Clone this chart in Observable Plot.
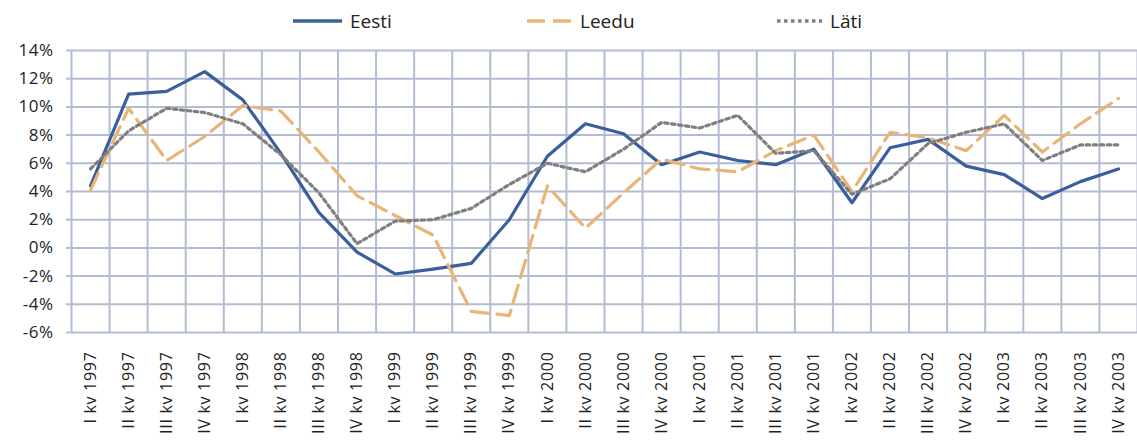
<!DOCTYPE html>
<html><head><meta charset="utf-8">
<script src="https://cdn.jsdelivr.net/npm/d3@7"></script>
<script src="https://cdn.jsdelivr.net/npm/@observablehq/plot@0.6"></script>
<style>
body{margin:0;background:#fff;font-family:"Open Sans",sans-serif;}
#legend{position:relative;height:40px;width:1137px;}
.item{position:absolute;top:9px;height:24px;line-height:24px;display:flex;align-items:center;font-size:19px;color:#222;}
.item svg{margin-right:8px;display:block}
</style></head><body>
<div id="legend"></div><div id="chart"></div>
<script>
const quarters = ["I kv 1997","II kv 1997","III kv 1997","IV kv 1997",
  "I kv 1998","II kv 1998","III kv 1998","IV kv 1998",
  "I kv 1999","II kv 1999","III kv 1999","IV kv 1999",
  "I kv 2000","II kv 2000","III kv 2000","IV kv 2000",
  "I kv 2001","II kv 2001","III kv 2001","IV kv 2001",
  "I kv 2002","II kv 2002","III kv 2002","IV kv 2002",
  "I kv 2003","II kv 2003","III kv 2003","IV kv 2003"];
const eesti = [4.4,10.9,11.1,12.5,10.5,6.7,2.5,-0.3,-1.85,-1.5,-1.1,2.0,6.5,8.8,8.1,5.9,6.8,6.2,5.9,7.0,3.2,7.1,7.7,5.8,5.2,3.5,4.7,5.6];
const leedu = [4.1,9.9,6.2,7.9,10.1,9.7,6.8,3.7,2.3,0.9,-4.5,-4.8,4.4,1.4,3.9,6.3,5.6,5.4,6.9,8.0,4.0,8.2,7.8,6.9,9.4,6.8,8.8,10.6];
const lati = [5.6,8.3,9.9,9.6,8.8,6.6,3.9,0.3,1.9,2.0,2.8,4.5,6.0,5.4,7.0,8.9,8.5,9.4,6.7,6.9,3.8,4.9,7.4,8.2,8.8,6.2,7.3,7.3];
const seriesNames = ["Eesti","Leedu","Läti"];
const seriesData = [eesti, leedu, lati];
const colors = ["#3a5f9b","#e9b577","#7f7f7f"];
const dashes = [null,"18,8","3.5,3.5"];
const yTicks = [-6,-4,-2,0,2,4,6,8,10,12,14];
const legendLeft = [293,527,777];
const swatchW = [49,45,45];
const grid = "#b4bcd3";

// legend
const leg = document.getElementById("legend");
seriesNames.forEach((n,k)=>{
  const it = document.createElement("div");
  it.className="item"; it.style.left = legendLeft[k]+"px";
  it.innerHTML = `<svg width="${swatchW[k]}" height="10"><line x1="0" x2="${swatchW[k]}" y1="5" y2="5" stroke="${colors[k]}" stroke-width="3.5" ${dashes[k]?`stroke-dasharray="${dashes[k]}"`:""}/></svg><span>${n}</span>`;
  leg.appendChild(it);
});

const idx = d3.range(quarters.length);
const bounds = d3.range(quarters.length+1).map(i=>i-0.5);
const chart = Plot.plot({
  width:1137, height:406, marginLeft:71, marginRight:0, marginTop:10, marginBottom:114,
  style:{fontFamily:"'Open Sans',sans-serif", fontSize:"17px", color:"#222", background:"#fff", overflow:"visible"},
  x:{domain:[-0.5, quarters.length-0.5], axis:null},
  y:{domain:[-6,14], axis:null},
  marks:[
    Plot.ruleY(yTicks, {stroke:grid, strokeWidth:2}),
    Plot.ruleX(bounds, {stroke:grid, strokeWidth:2}),
    Plot.axisY(yTicks, {tickFormat:d=>d+"%", tickSize:5, tickPadding:13, stroke:grid, strokeWidth:2, fill:"#222", label:null}),
    Plot.axisX(idx, {tickFormat:i=>quarters[i], tickRotate:-90, tickSize:0, tickPadding:19, fill:"#222", label:null}),
    ...seriesData.map((s,k)=>Plot.line(s, {x:(d,i)=>i, y:d=>d, stroke:colors[k], strokeWidth:3.2, strokeDasharray:dashes[k]||undefined, strokeLinejoin:"round"}))
  ]
});
d3.select(chart).selectAll("g[aria-label='x-axis tick label'] text").style("font-size","16px").style("letter-spacing","0.7px");
d3.select(chart).selectAll("g[aria-label='y-axis tick label'] text").style("font-size","17px").style("letter-spacing","0.5px");
document.getElementById("chart").appendChild(chart);
</script></body></html>
